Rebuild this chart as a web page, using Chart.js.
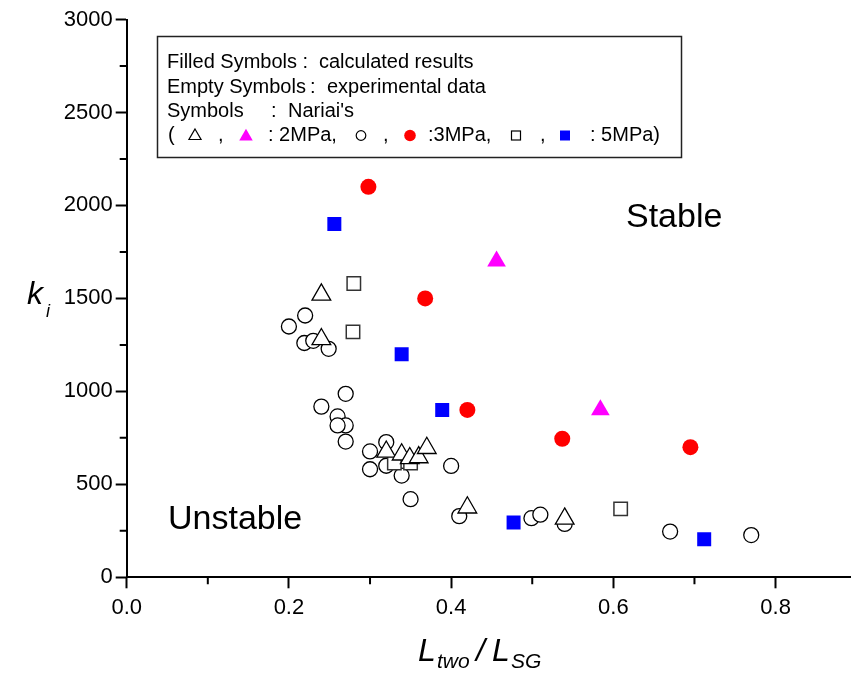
<!DOCTYPE html>
<html>
<head>
<meta charset="utf-8">
<script src="https://cdn.jsdelivr.net/npm/chart.js@4.4.1/dist/chart.umd.min.js"></script>
<style>
  html, body { margin: 0; padding: 0; background: #fff; }
</style>
</head>
<body>
<canvas id="kiChart" width="851" height="674"></canvas>
<script>
// empty symbols: experimental data (Nariai's)  [L_two/L_SG, k_i]
const exp2MPa = [[0.240, 1520], [0.240, 1280], [0.320, 675], [0.339, 660], [0.349, 640],
                 [0.360, 645], [0.370, 695], [0.420, 375], [0.540, 315]];
const exp3MPa = [[0.220, 1408], [0.200, 1349], [0.219, 1260], [0.230, 1272], [0.249, 1229],
                 [0.270, 987], [0.240, 918], [0.260, 865], [0.270, 817], [0.260, 817],
                 [0.270, 730], [0.300, 677], [0.320, 727], [0.300, 581], [0.320, 600],
                 [0.339, 547], [0.400, 599], [0.350, 420], [0.410, 329], [0.499, 318],
                 [0.510, 337], [0.540, 287], [0.670, 246], [0.770, 227]];
const exp5MPa = [[0.280, 1580], [0.279, 1320], [0.330, 615], [0.350, 615], [0.609, 368]];

// filled symbols: calculated results
const calc2MPa = [[0.456, 1700], [0.584, 900]];
const calc3MPa = [[0.298, 2100], [0.368, 1500], [0.420, 900], [0.537, 745], [0.695, 700]];
const calc5MPa = [[0.256, 1900], [0.339, 1200], [0.389, 900], [0.477, 295], [0.712, 205]];

const xTicks = [0, 0.2, 0.4, 0.6, 0.8];
const xMinor = [0.1, 0.3, 0.5, 0.7];
const yTicks = [0, 500, 1000, 1500, 2000, 2500, 3000];
const yMinor = [250, 750, 1250, 1750, 2250, 2750];

const toXY = arr => arr.map(p => ({x: p[0], y: p[1]}));
const SANS = '"Liberation Sans", Arial, sans-serif';
const NARROW = '"Liberation Sans Narrow", "Arial Narrow", "Liberation Sans", Arial, sans-serif';

const extras = {
  id: 'extras',
  afterDraw(chart) {
    const ctx = chart.ctx;
    const xs = chart.scales.x, ys = chart.scales.y;
    ctx.save();
    // minor ticks
    ctx.strokeStyle = '#000';
    ctx.lineWidth = 2;
    ctx.beginPath();
    xMinor.forEach(v => {
      const px = xs.getPixelForValue(v);
      ctx.moveTo(px, ys.bottom); ctx.lineTo(px, ys.bottom + 7);
    });
    yMinor.forEach(v => {
      const py = ys.getPixelForValue(v);
      ctx.moveTo(xs.left, py); ctx.lineTo(xs.left - 7, py);
    });
    ctx.stroke();

    // legend box
    ctx.lineWidth = 1.5;
    ctx.strokeStyle = '#222';
    ctx.strokeRect(157.5, 36.5, 524, 121);
    ctx.fillStyle = '#000';
    ctx.font = '20px ' + SANS;
    ctx.textBaseline = 'alphabetic';
    ctx.fillText('Filled Symbols :', 167, 68);
    ctx.fillText('calculated results', 319, 68);
    ctx.fillText('Empty Symbols', 167, 92.5);
    ctx.fillText(':', 310, 92.5);
    ctx.fillText('experimental data', 327, 92.5);
    ctx.fillText('Symbols', 167, 117);
    ctx.fillText(':', 271, 117);
    ctx.fillText('Nariai\'s', 288, 117);
    const yb = 141;
    ctx.fillText('(', 168, yb);
    ctx.fillText(',', 218, yb);
    ctx.fillText(': 2MPa,', 268, yb);
    ctx.fillText(',', 383, yb);
    ctx.fillText(':3MPa,', 428, yb);
    ctx.fillText(',', 540, yb);
    ctx.fillText(': 5MPa)', 590, yb);
    const tri = (cx, cy, r, fill) => {
      ctx.beginPath();
      ctx.moveTo(cx, cy - r);
      ctx.lineTo(cx + r * 0.866, cy + r / 2);
      ctx.lineTo(cx - r * 0.866, cy + r / 2);
      ctx.closePath();
      if (fill) { ctx.fillStyle = fill; ctx.fill(); }
      else { ctx.strokeStyle = '#000'; ctx.lineWidth = 1.2; ctx.stroke(); }
    };
    const circ = (cx, cy, r, fill) => {
      ctx.beginPath();
      ctx.arc(cx, cy, r, 0, Math.PI * 2);
      if (fill) { ctx.fillStyle = fill; ctx.fill(); }
      else { ctx.strokeStyle = '#000'; ctx.lineWidth = 1.2; ctx.stroke(); }
    };
    const sq = (cx, cy, h, fill) => {
      if (fill) { ctx.fillStyle = fill; ctx.fillRect(cx - h, cy - h, 2 * h, 2 * h); }
      else { ctx.strokeStyle = '#000'; ctx.lineWidth = 1.2; ctx.strokeRect(cx - h, cy - h, 2 * h, 2 * h); }
    };
    tri(195, 136, 7, null);
    tri(246, 136.5, 7.8, '#ff00ff');
    circ(361, 135.5, 4.8, null);
    circ(410, 135.5, 5.8, '#ff0000');
    sq(516, 135.5, 4.5, null);
    sq(565, 135.5, 5, '#0000ff');

    // region labels
    ctx.fillStyle = '#000';
    ctx.font = '34px ' + SANS;
    ctx.fillText('Stable', 626, 227);
    ctx.fillText('Unstable', 168, 529);

    // y title k_i
    ctx.font = 'italic 32px ' + SANS;
    ctx.fillText('k', 27, 304);
    ctx.font = 'italic 18px ' + SANS;
    ctx.fillText('i', 46, 317);

    // x title L_two / L_SG
    const big = 'italic 32px ' + NARROW, small = 'italic 21px ' + NARROW;
    ctx.font = big;
    ctx.fillText('L', 418, 661);
    ctx.fillText('/', 476, 661);
    ctx.fillText('L', 492, 661);
    ctx.font = small;
    ctx.fillText('two', 437, 668);
    ctx.fillText('SG', 511, 668);
    ctx.restore();
  }
};

const openStyle = {backgroundColor: '#fff', borderColor: '#000', borderWidth: 1.3};

new Chart(document.getElementById('kiChart'), {
  type: 'scatter',
  data: {
    datasets: [
      {label: '2MPa exp', data: toXY(exp2MPa), pointStyle: 'triangle', pointRadius: 10.8, ...openStyle},
      {label: '5MPa exp', data: toXY(exp5MPa), pointStyle: 'rect', pointRadius: 9.5,
        backgroundColor: '#fff', borderColor: '#333', borderWidth: 1.5},
      {label: '3MPa exp', data: toXY(exp3MPa), pointStyle: 'circle', pointRadius: 7.5, ...openStyle},
      {label: '2MPa calc', data: toXY(calc2MPa), pointStyle: 'triangle', pointRadius: 10.8,
        backgroundColor: '#ff00ff', borderColor: '#ff00ff', borderWidth: 0},
      {label: '3MPa calc', data: toXY(calc3MPa), pointStyle: 'circle', pointRadius: 8,
        backgroundColor: '#ff0000', borderColor: '#ff0000', borderWidth: 0},
      {label: '5MPa calc', data: toXY(calc5MPa), pointStyle: 'rect', pointRadius: 9.9,
        backgroundColor: '#0000ff', borderColor: '#0000ff', borderWidth: 0}
    ]
  },
  options: {
    responsive: false,
    animation: false,
    devicePixelRatio: 1,
    layout: {autoPadding: false, padding: {top: 19.5, right: 0, left: 0, bottom: 0}},
    plugins: {legend: {display: false}, tooltip: {enabled: false}},
    elements: {point: {hoverRadius: 0}},
    scales: {
      x: {
        type: 'linear',
        min: 0,
        max: 0.893,
        afterBuildTicks: s => { s.ticks = xTicks.map(v => ({value: v})); },
        afterFit: s => { s.height = 96.7; s.paddingLeft = 0; s.paddingRight = 0; },
        border: {color: '#000', width: 2},
        grid: {drawOnChartArea: false, tickLength: 11, tickWidth: 2, tickColor: '#000'},
        ticks: {
          color: '#000', padding: 6,
          font: {family: NARROW, size: 22},
          callback: v => Number(v).toFixed(1)
        }
      },
      y: {
        type: 'linear',
        min: 0,
        max: 3000,
        afterBuildTicks: s => { s.ticks = yTicks.map(v => ({value: v})); },
        afterFit: s => { s.width = 126.7; },
        border: {color: '#000', width: 2},
        grid: {drawOnChartArea: false, tickLength: 11, tickWidth: 2, tickColor: '#000'},
        ticks: {
          color: '#000', padding: 3,
          font: {family: SANS, size: 22},
          callback: v => String(v)
        }
      }
    }
  },
  plugins: [extras]
});
</script>
</body>
</html>
